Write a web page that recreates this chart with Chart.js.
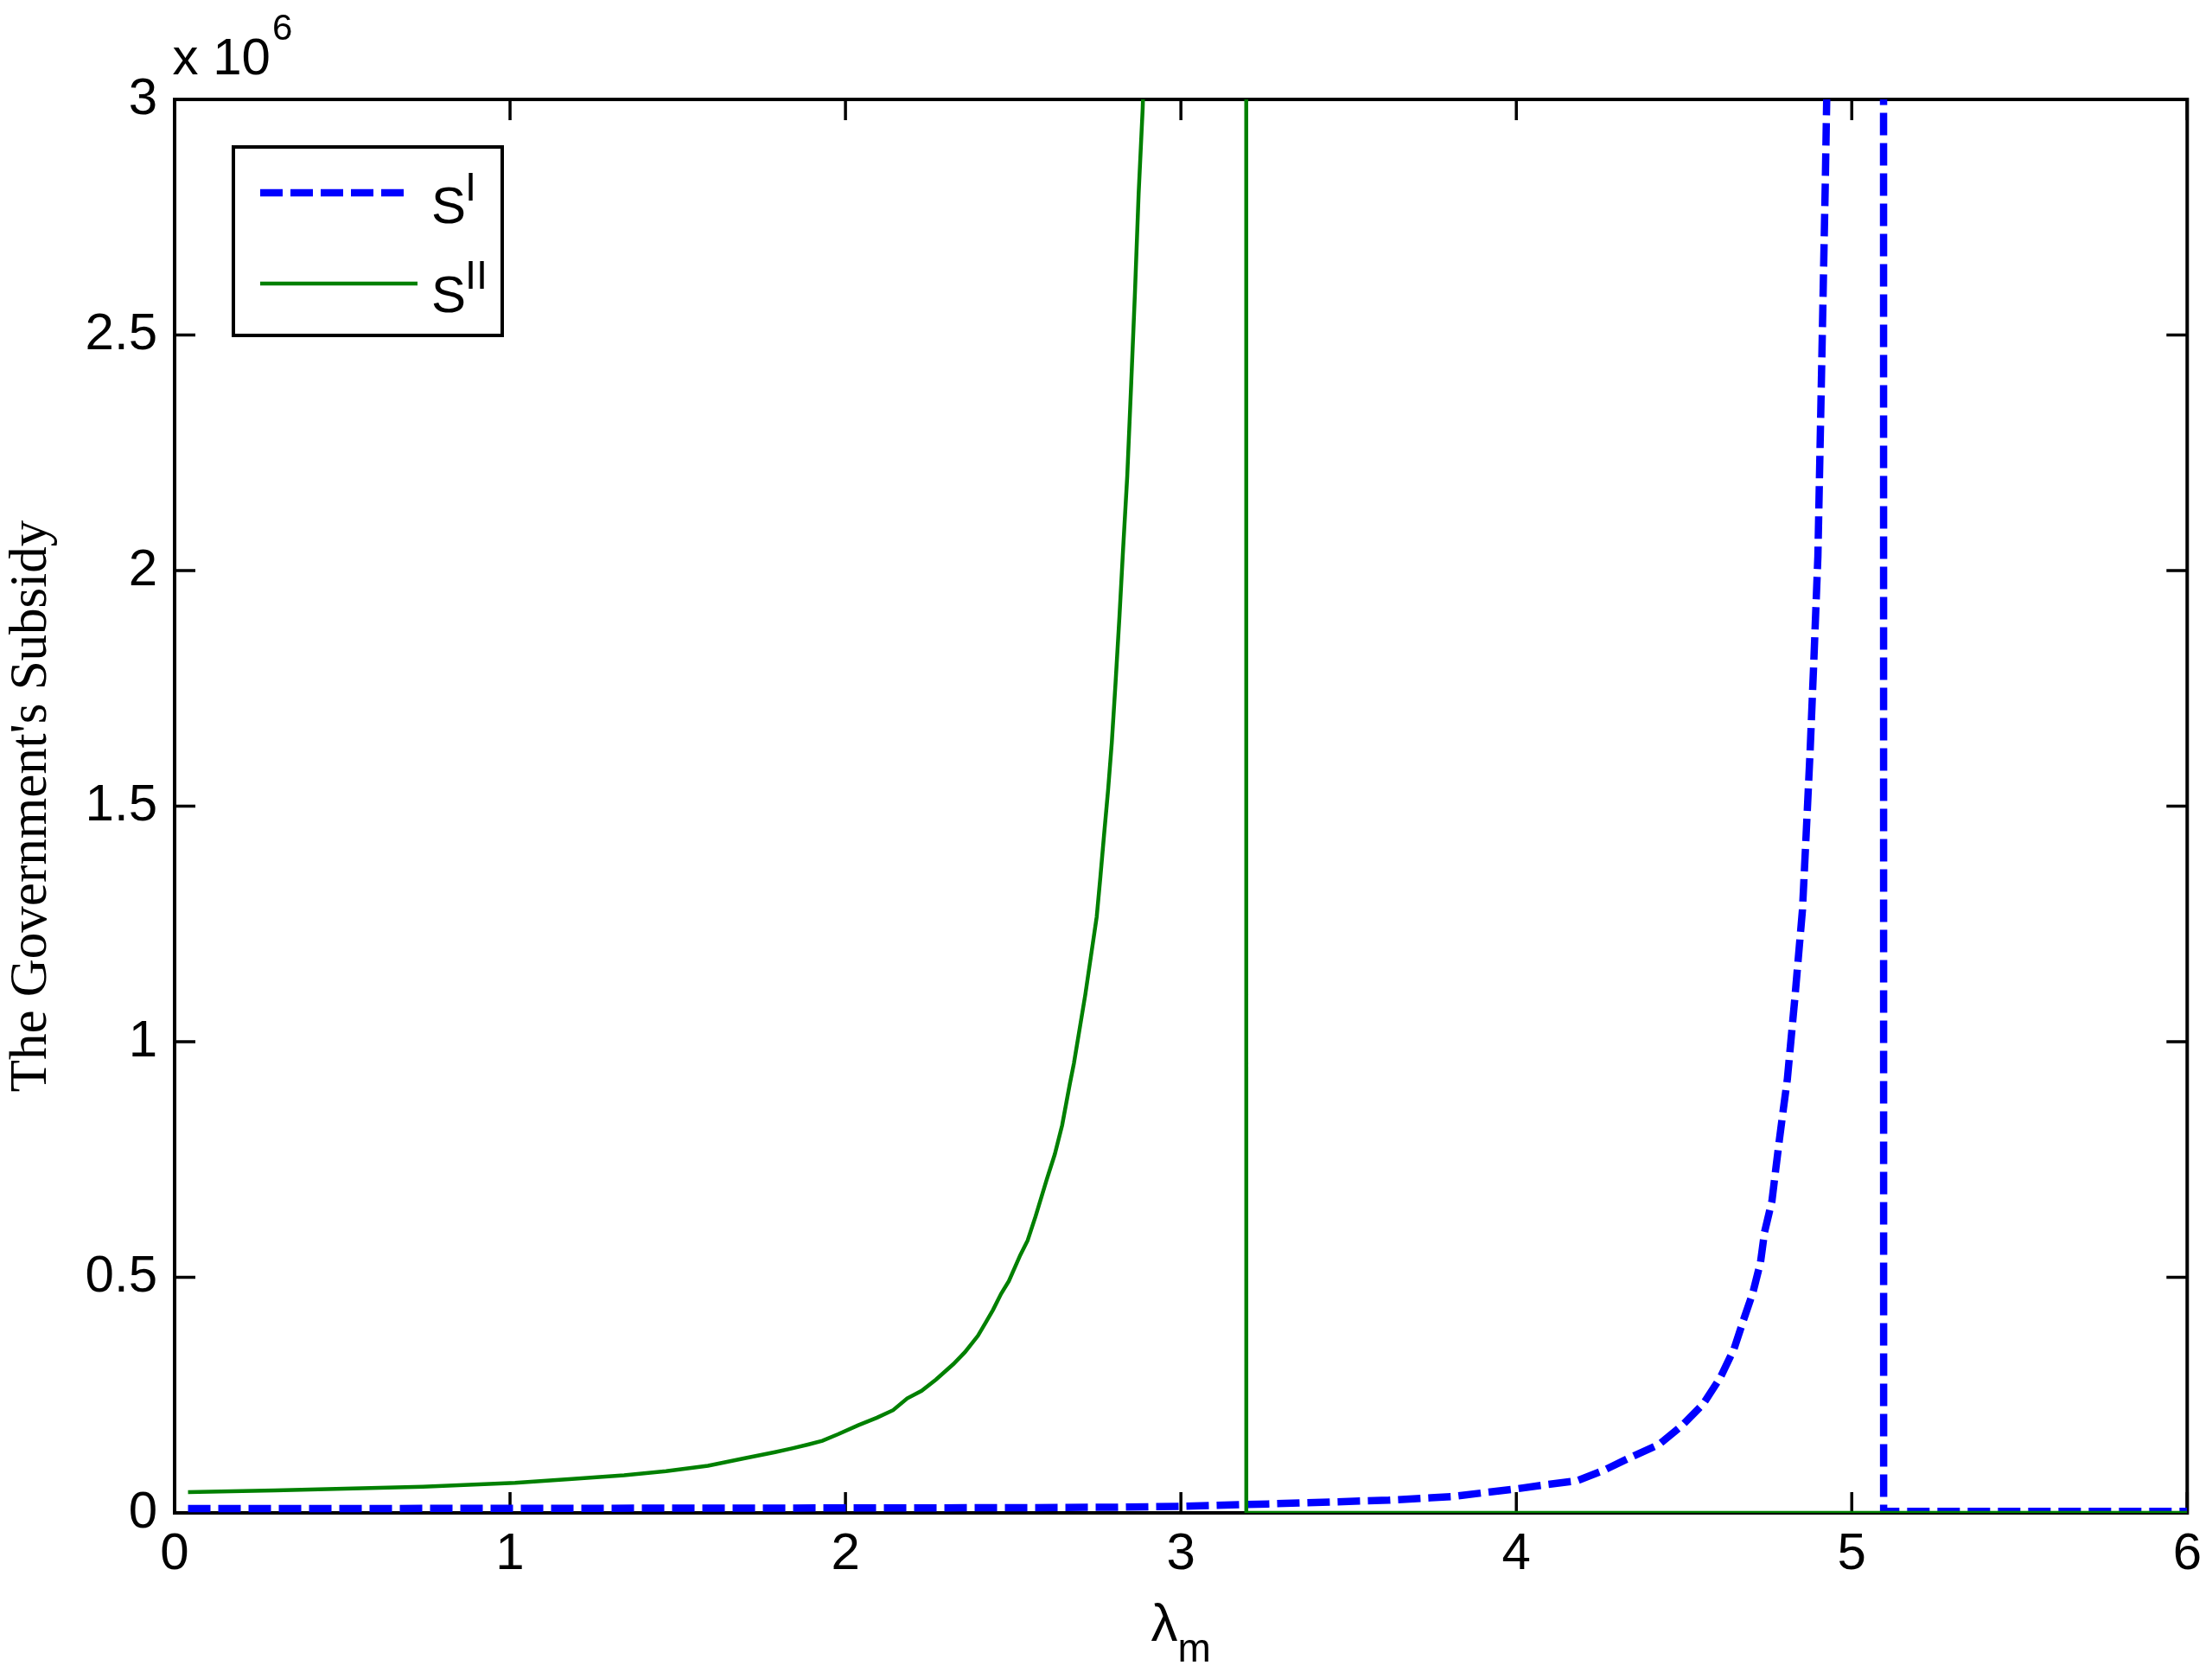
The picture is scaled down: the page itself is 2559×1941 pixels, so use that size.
<!DOCTYPE html>
<html>
<head>
<meta charset="utf-8">
<script src="https://cdn.jsdelivr.net/npm/chart.js@4"></script>
<style>
  html, body { margin: 0; padding: 0; background: #ffffff; }
  #wrap { width: 2559px; height: 1941px; }
</style>
</head>
<body>
<div id="wrap"><canvas id="c" width="2559" height="1941"></canvas></div>
<script>
// ---- data ----
const xTicks = [0, 1, 2, 3, 4, 5, 6];
const yTicks = [0, 500000, 1000000, 1500000, 2000000, 2500000, 3000000];

// S^I (blue dashed)
const lambdaI = [0.04, 0.5, 1.0, 1.5, 2.0, 2.5, 2.8, 3.0, 3.26, 3.62, 3.745, 3.815, 3.905,
  4.0, 4.09, 4.18, 4.26, 4.335, 4.425, 4.495, 4.557, 4.608, 4.649, 4.677, 4.705, 4.728, 4.74,
  4.762, 4.773, 4.784, 4.796, 4.808, 4.83, 4.853, 4.864, 4.876, 4.887, 4.899, 4.911, 4.921,
  4.93, 5.0, 5.09, 5.095, 6.0];
const subsidyI = [9000, 9300, 9600, 10000, 10400, 11000, 12000, 14000, 19000, 27000, 32000, 35000, 43000,
  51000, 60000, 68000, 90000, 116000, 145000, 186000, 231000, 287000, 348000, 409000, 467000, 532000, 596000,
  662000, 727000, 791000, 857000, 921000, 1090000, 1280000, 1440000, 1620000, 1810000, 2030000, 2460000, 2820000,
  3200000, 20000000, 100000000, 3000, 3000];

// S^II (green solid)
const lambdaII = [0.04, 0.3, 0.74, 1.015, 1.185, 1.34, 1.465, 1.59, 1.70, 1.79, 1.841, 1.888, 1.931,
  1.978, 2.038, 2.094, 2.142, 2.184, 2.227, 2.27, 2.322, 2.356, 2.395, 2.418, 2.44, 2.464, 2.487,
  2.521, 2.543, 2.567, 2.601, 2.624, 2.646, 2.669, 2.681, 2.715, 2.749, 2.76, 2.771, 2.783, 2.794,
  2.805, 2.817, 2.828, 2.84, 2.852, 2.863, 2.874, 2.886, 2.9, 3.0, 3.19, 3.195, 6.0];
const subsidyII = [44000, 47700, 55600, 63600, 72000, 80000, 88600, 100000, 116000, 129000, 137000, 145000, 153000,
  167000, 186000, 202000, 218000, 243000, 259000, 283000, 316000, 341000, 376000, 404000, 431000, 465000, 492000,
  547000, 578000, 630000, 710000, 761000, 823000, 911000, 954000, 1100000, 1265000, 1350000, 1440000, 1535000, 1635000,
  1760000, 1905000, 2050000, 2200000, 2400000, 2590000, 2800000, 2980000, 3300000, 8000000, 100000000, 0, 0];

const seriesNames = ['S', 'S'];
const seriesSup = ['I', 'II'];
const yTitle = "The Government's Subsidy";
const xTitleMain = 'λ';
const xTitleSub = 'm';
const yExponent = '6';

const BLUE = '#0000ff';
const GREEN = '#008000';
const SANS = '"Liberation Sans", Arial, sans-serif';
const SERIF = '"Liberation Serif", "Times New Roman", serif';

const toPts = (xs, ys) => xs.map((x, i) => ({ x: x, y: ys[i] }));

// box, inward ticks, exponent and x title
const framePlugin = {
  id: 'frame',
  beforeDatasetsDraw(chart) {
    const ctx = chart.ctx;
    const a = chart.chartArea;
    const xs = chart.scales.x, ys = chart.scales.y;
    ctx.save();
    ctx.strokeStyle = '#000';
    ctx.lineWidth = 4;
    ctx.setLineDash([]);
    ctx.strokeRect(a.left, a.top, a.right - a.left, a.bottom - a.top);
    ctx.lineWidth = 3.5;
    const tl = 24;
    ctx.beginPath();
    xTicks.forEach(v => {
      const px = xs.getPixelForValue(v);
      ctx.moveTo(px, a.bottom); ctx.lineTo(px, a.bottom - tl);
      ctx.moveTo(px, a.top); ctx.lineTo(px, a.top + tl);
    });
    yTicks.forEach(v => {
      const py = ys.getPixelForValue(v);
      ctx.moveTo(a.left, py); ctx.lineTo(a.left + tl, py);
      ctx.moveTo(a.right, py); ctx.lineTo(a.right - tl, py);
    });
    ctx.stroke();
    // exponent label
    ctx.fillStyle = '#000';
    ctx.textBaseline = 'alphabetic';
    ctx.textAlign = 'left';
    ctx.font = '60px ' + SANS;
    ctx.fillText('x 10', a.left - 2.5, 86);
    const w = ctx.measureText('x 10').width;
    ctx.font = '42px ' + SANS;
    ctx.fillText(yExponent, a.left - 2.5 + w + 2, 46);
    // x axis title
    const cx = (a.left + a.right) / 2;
    ctx.font = '62px ' + SANS;
    const lw = ctx.measureText(xTitleMain).width;
    ctx.font = '46px ' + SANS;
    const mw = ctx.measureText(xTitleSub).width;
    const startX = cx - (lw + mw) / 2;
    ctx.font = '62px ' + SANS;
    ctx.fillText(xTitleMain, startX, 1898);
    ctx.font = '46px ' + SANS;
    ctx.fillText(xTitleSub, startX + lw, 1922);
    ctx.restore();
  },
  afterDatasetsDraw(chart) {
    const ctx = chart.ctx;
    const ds = chart.data.datasets;
    ctx.save();
    // legend box
    ctx.fillStyle = '#fff';
    ctx.fillRect(270, 170, 311, 218);
    ctx.strokeStyle = '#000';
    ctx.lineWidth = 4;
    ctx.setLineDash([]);
    ctx.strokeRect(270, 170, 311, 218);
    const rows = [
      { y: 223, x2: 470, base: 258, sup: 232 },
      { y: 328, x2: 483, base: 361, sup: 334 }
    ];
    rows.forEach((r, i) => {
      const d = ds[i];
      ctx.strokeStyle = d.borderColor;
      ctx.lineWidth = d.borderWidth;
      ctx.setLineDash(d.borderDash || []);
      ctx.lineCap = 'butt';
      ctx.beginPath();
      ctx.moveTo(301, r.y); ctx.lineTo(r.x2, r.y);
      ctx.stroke();
      ctx.setLineDash([]);
      ctx.fillStyle = '#000';
      ctx.textAlign = 'left';
      ctx.textBaseline = 'alphabetic';
      ctx.font = '60px ' + SANS;
      ctx.fillText(seriesNames[i], 499, r.base);
      ctx.font = '47px ' + SANS;
      ctx.fillText(seriesSup[i], 538, r.sup);
    });
    ctx.restore();
  }
};

new Chart(document.getElementById('c'), {
  type: 'line',
  data: {
    datasets: [
      {
        label: 'S^I',
        data: toPts(lambdaI, subsidyI),
        borderColor: BLUE,
        borderWidth: 8.5,
        borderDash: [26, 9],
        pointRadius: 0,
        tension: 0,
        fill: false,
        order: 1
      },
      {
        label: 'S^II',
        data: toPts(lambdaII, subsidyII),
        borderColor: GREEN,
        borderWidth: 4.5,
        pointRadius: 0,
        tension: 0,
        fill: false,
        order: 0
      }
    ]
  },
  options: {
    responsive: false,
    devicePixelRatio: 1,
    animation: false,
    layout: { padding: { top: 115, right: 28, bottom: 0, left: 0 } },
    plugins: { legend: { display: false }, tooltip: { enabled: false } },
    scales: {
      x: {
        type: 'linear',
        position: 'bottom',
        min: 0, max: 6,
        grid: { display: false, drawTicks: false },
        border: { display: false },
        ticks: {
          stepSize: 1,
          padding: 12,
          color: '#000',
          font: { family: SANS, size: 60 },
          maxRotation: 0,
          autoSkip: false
        },
        afterFit(s) { s.height = 191; }
      },
      y: {
        type: 'linear',
        position: 'left',
        min: 0, max: 3000000,
        grid: { display: false, drawTicks: false },
        border: { display: false },
        ticks: {
          stepSize: 500000,
          padding: 20,
          color: '#000',
          font: { family: SANS, size: 60 },
          callback: v => String(v / 1000000)
        },
        title: {
          display: true,
          text: yTitle,
          color: '#000',
          font: { family: SERIF, size: 61, weight: 'normal' },
          padding: 0
        },
        afterFit(s) { s.width = 202; }
      }
    }
  },
  plugins: [framePlugin]
});
</script>
</body>
</html>
